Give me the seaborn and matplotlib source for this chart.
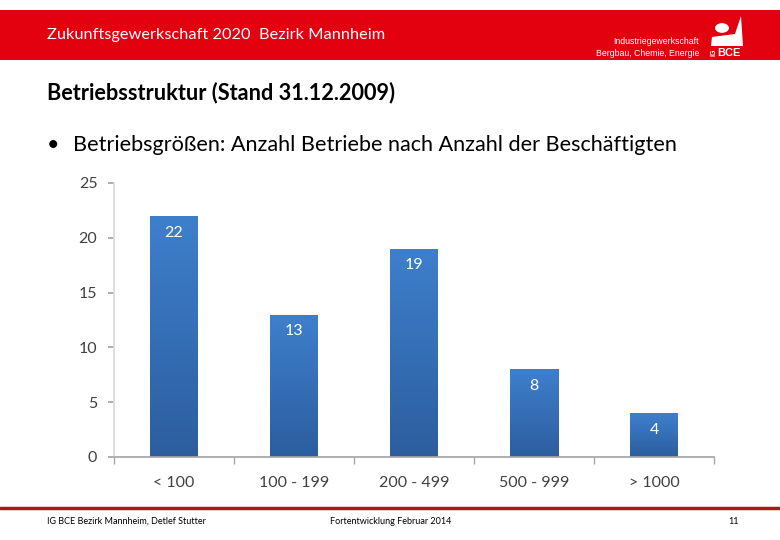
import numpy as np
import pandas as pd
import matplotlib
matplotlib.use("Agg")
import matplotlib.pyplot as plt
from matplotlib.patches import Rectangle, Circle, Polygon
from matplotlib.lines import Line2D
from matplotlib.colors import LinearSegmentedColormap
import seaborn as sns

# Data
groessen = ["< 100", "100 - 199", "200 - 499", "500 - 999", "> 1000"]
betriebe = [22, 13, 19, 8, 4]
y_ticks = [0, 5, 10, 15, 20, 25]

header_text = "Zukunftsgewerkschaft 2020  Bezirk Mannheim"
titel = "Betriebsstruktur (Stand 31.12.2009)"
bullet = "Betriebsgrößen: Anzahl Betriebe nach Anzahl der Beschäftigten"
footer_links = "IG BCE Bezirk Mannheim, Detlef Stutter"
footer_mitte = "Fortentwicklung Februar 2014"
seite = "11"

sns.set_theme(style="white")
plt.rcParams["font.family"] = ["Lato", "DejaVu Sans"]

df = pd.DataFrame({"groesse": groessen, "anzahl": betriebe})

fig = plt.figure(figsize=(7.8, 5.4), dpi=100)
W, H = 780, 540

def fx(px):
    return px / W

def fy(py):
    return 1 - py / H

# red header band
fig.patches.append(Rectangle((0, fy(60)), 1, 50 / H, transform=fig.transFigure,
                             facecolor="#e3000f", edgecolor="none", zorder=0))
fig.text(fx(47), fy(35), header_text, color="white", fontsize=11.8, va="center")
fig.text(fx(699), fy(42), "Industriegewerkschaft", color="white", fontsize=6.3,
         ha="right", va="center", family=["Liberation Sans", "DejaVu Sans"])
fig.text(fx(699), fy(53), "Bergbau, Chemie, Energie", color="white", fontsize=6.3,
         ha="right", va="center", family=["Liberation Sans", "DejaVu Sans"])
# logo
fig.patches.append(Circle((fx(722), fy(28)), 7 / W, transform=fig.transFigure,
                          facecolor="white", edgecolor="none"))
fig.patches.append(Polygon([(fx(711), fy(46)), (fx(712), fy(37)), (fx(735), fy(34)),
                            (fx(741), fy(16)), (fx(743), fy(46))],
                           closed=True, transform=fig.transFigure,
                           facecolor="white", edgecolor="none"))
fig.patches.append(Rectangle((fx(709), fy(58)), 36 / W, 11 / H, transform=fig.transFigure,
                             facecolor="#e3000f", edgecolor="none"))
fig.text(fx(729), fy(52.5), "BCE", color="white", fontsize=8, fontweight="bold",
         ha="center", va="center", family=["Liberation Sans", "DejaVu Sans"])
fig.text(fx(714), fy(52.5), "IG", color="white", fontsize=5, fontweight="bold",
         ha="center", va="center", rotation=90, family=["Liberation Sans", "DejaVu Sans"])

# titles
fig.text(fx(47), fy(93), titel, fontsize=15.6, fontweight="bold", color="black",
         va="center")
fig.text(fx(47), fy(145), "•", fontsize=15.6, color="black", va="center")
fig.text(fx(73), fy(145), bullet, fontsize=15.6, color="black", va="center")

# footer
fig.lines.append(Line2D([0, 1], [fy(508), fy(508)], transform=fig.transFigure,
                        color="#b5121b", linewidth=2.5))
fig.text(fx(47), fy(521), footer_links, fontsize=6.5, color="black", va="center")
fig.text(fx(330), fy(521), footer_mitte, fontsize=6.5, color="black", va="center")
fig.text(fx(728), fy(521), seite, fontsize=6.5, color="black", va="center")

# chart
ax = fig.add_axes([fx(114), fy(457), 600 / W, 274 / H])
sns.barplot(data=df, x="groesse", y="anzahl", color="#3a74bf", width=0.4,
            saturation=1, ax=ax)
ax.set_xlabel("")
ax.set_ylabel("")

# gradient fill for each bar
grad = LinearSegmentedColormap.from_list("blau", ["#2c5e9f", "#3e7fcc"])
for bar in ax.patches:
    x0, y0 = bar.get_x(), bar.get_y()
    w, h = bar.get_width(), bar.get_height()
    img = ax.imshow(np.linspace(1, 0, 100).reshape(-1, 1), cmap=grad,
                    extent=[x0, x0 + w, y0, y0 + h], aspect="auto", zorder=bar.get_zorder())
    img.set_clip_path(bar)
    bar.set_facecolor("none")
ax.set_xlim(-0.5, len(groessen) - 0.5)
ax.set_ylim(0, 25)
ax.set_yticks(y_ticks)

for i, v in enumerate(betriebe):
    ax.annotate(str(v), (i, v), xytext=(0, -7), textcoords="offset points",
                ha="center", va="top", color="white", fontsize=11.5, zorder=5)

for s in ["top", "right"]:
    ax.spines[s].set_visible(False)
ax.spines["left"].set_color("#d9d9d9")
ax.spines["bottom"].set_color("#a6a6a6")
ax.tick_params(axis="y", which="major", left=True, length=4, color="#a6a6a6",
               labelsize=11.5, labelcolor="#404040", pad=8)
ax.tick_params(axis="x", which="major", bottom=False, labelsize=11.5,
               labelcolor="#404040", pad=8)
ax.set_xticks(np.arange(-0.5, len(groessen), 1.0), minor=True)
ax.tick_params(axis="x", which="minor", bottom=True, length=5, color="#a6a6a6")
ax.grid(False)

fig.savefig("out.png", dpi=100)
